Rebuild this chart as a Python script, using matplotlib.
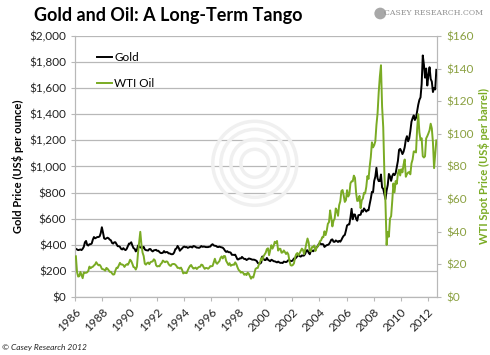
import numpy as np
import matplotlib
matplotlib.use('Agg')
import matplotlib.pyplot as plt
from matplotlib.patches import Ellipse

# monthly values, Jan 1986 .. Aug 2012
gold = [
    370, 365, 360, 362, 365, 360, 370, 385, 420, 430, 400, 395,   # 1986
    405, 405, 410, 440, 460, 450, 455, 460, 460, 465, 490, 535,   # 1987
    495, 450, 445, 450, 455, 450, 440, 435, 415, 410, 420, 420,   # 1988
    405, 390, 390, 385, 370, 365, 375, 365, 360, 370, 390, 410,   # 1989
    410, 420, 395, 375, 370, 350, 360, 395, 390, 380, 380, 378,   # 1990
    385, 365, 360, 358, 357, 368, 368, 356, 350, 358, 360, 362,   # 1991
    354, 355, 345, 338, 337, 340, 353, 342, 345, 345, 335, 335,   # 1992
    330, 328, 330, 342, 367, 372, 392, 378, 355, 365, 373, 383,   # 1993
    387, 382, 384, 377, 381, 385, 385, 380, 391, 389, 384, 379,   # 1994
    379, 377, 382, 391, 385, 387, 386, 383, 383, 383, 386, 387,   # 1995
    400, 405, 396, 393, 392, 385, 383, 387, 383, 381, 378, 369,   # 1996
    355, 346, 352, 344, 344, 341, 324, 324, 323, 325, 306, 289,   # 1997
    289, 297, 296, 308, 299, 292, 293, 284, 289, 296, 294, 291,   # 1998
    287, 287, 286, 282, 277, 261, 256, 257, 264, 311, 293, 284,   # 1999
    284, 300, 286, 280, 275, 286, 282, 275, 274, 270, 266, 272,   # 2000
    266, 262, 263, 261, 272, 270, 268, 273, 283, 283, 276, 276,   # 2001
    282, 296, 294, 303, 314, 322, 314, 310, 319, 317, 319, 333,   # 2002
    357, 359, 340, 328, 355, 356, 351, 359, 379, 379, 389, 407,   # 2003
    414, 405, 406, 404, 384, 392, 398, 400, 406, 420, 439, 442,   # 2004
    424, 423, 434, 429, 422, 431, 424, 438, 456, 470, 476, 510,   # 2005
    549, 555, 557, 610, 676, 596, 633, 632, 599, 585, 627, 629,   # 2006
    631, 664, 654, 679, 667, 655, 665, 665, 712, 754, 806, 803,   # 2007
    889, 922, 990, 909, 888, 889, 939, 839, 829, 790, 750, 816,   # 2008
    858, 943, 924, 890, 928, 945, 934, 949, 996, 1043, 1127, 1135,  # 2009
    1118, 1095, 1113, 1148, 1205, 1232, 1193, 1215, 1271, 1343, 1370, 1391,  # 2010
    1356, 1372, 1424, 1473, 1510, 1529, 1630, 1850, 1780, 1680, 1750, 1620,  # 2011
    1700, 1760, 1670, 1650, 1570, 1600, 1590, 1740,  # 2012
]

oil = [
    25.0, 15.5, 12.6, 12.8, 15.4, 13.5, 11.6, 15.1, 14.9, 14.9, 15.2, 16.1,  # 1986
    18.7, 17.7, 18.3, 18.6, 19.4, 20.0, 21.4, 20.3, 19.5, 19.8, 18.9, 17.3,  # 1987
    17.1, 16.8, 16.2, 17.9, 17.4, 16.5, 15.5, 15.5, 14.5, 13.8, 14.0, 16.3,  # 1988
    18.0, 17.9, 19.4, 21.0, 20.0, 20.0, 19.6, 18.5, 19.6, 20.1, 19.8, 21.1,  # 1989
    22.9, 22.1, 20.4, 18.4, 18.2, 16.9, 18.6, 27.2, 33.7, 40.0, 32.3, 27.3,  # 1990
    25.2, 20.5, 19.9, 20.8, 21.2, 20.2, 21.4, 21.7, 21.9, 23.2, 22.5, 19.5,  # 1991
    18.8, 19.0, 18.9, 20.2, 20.9, 22.4, 21.8, 21.4, 21.9, 21.7, 20.3, 19.4,  # 1992
    19.1, 20.1, 20.3, 20.3, 19.9, 19.1, 17.9, 18.0, 17.5, 18.1, 16.7, 14.5,  # 1993
    15.0, 14.8, 14.7, 16.4, 17.9, 19.1, 19.7, 18.4, 17.5, 17.7, 18.1, 17.2,  # 1994
    18.0, 18.5, 18.6, 19.9, 19.7, 18.4, 17.3, 17.9, 17.8, 17.4, 18.0, 19.0,  # 1995
    18.9, 19.1, 21.3, 23.5, 21.2, 20.4, 21.3, 22.0, 24.0, 24.9, 23.7, 25.2,  # 1996
    25.1, 22.2, 20.9, 19.7, 20.8, 19.2, 19.6, 19.9, 19.8, 21.3, 20.2, 18.3,  # 1997
    16.7, 16.1, 15.0, 15.4, 14.9, 13.7, 14.2, 13.5, 15.0, 14.4, 12.9, 11.3,  # 1998
    12.5, 12.0, 14.7, 17.3, 17.8, 17.9, 20.1, 21.3, 23.9, 22.6, 25.0, 26.1,  # 1999
    27.2, 29.4, 29.9, 25.7, 28.8, 31.8, 29.7, 31.2, 33.9, 33.1, 34.4, 28.5,  # 2000
    29.6, 29.6, 27.2, 27.4, 28.6, 27.6, 26.4, 27.4, 26.2, 22.2, 19.6, 19.3,  # 2001
    19.7, 20.7, 24.4, 26.3, 27.0, 25.5, 26.9, 28.4, 29.7, 28.9, 26.3, 29.4,  # 2002
    32.9, 35.9, 33.5, 28.3, 28.1, 30.7, 30.8, 31.6, 28.3, 30.3, 31.1, 32.1,  # 2003
    34.3, 34.7, 36.7, 36.7, 40.3, 38.0, 40.7, 44.9, 45.9, 53.1, 48.5, 43.3,  # 2004
    46.8, 48.0, 54.3, 53.0, 49.8, 56.3, 58.7, 65.0, 65.6, 62.3, 58.3, 59.4,  # 2005
    65.5, 61.6, 62.9, 69.7, 70.9, 70.9, 74.4, 73.0, 63.8, 58.9, 59.1, 62.0,  # 2006
    54.5, 59.3, 60.4, 63.9, 63.5, 67.5, 74.1, 72.4, 79.9, 85.8, 94.8, 91.7,  # 2007
    93.0, 95.4, 105.5, 112.6, 125.4, 135.0, 142.0, 116.7, 104.1, 76.6, 57.3, 32.0,  # 2008
    40.0, 37.0, 48.1, 49.6, 59.0, 69.6, 64.2, 71.1, 69.4, 75.7, 78.0, 74.5,  # 2009
    78.3, 76.4, 81.2, 84.3, 73.7, 75.3, 76.3, 76.6, 75.2, 81.9, 84.3, 89.2,  # 2010
    89.2, 88.6, 102.9, 112.0, 100.9, 96.3, 97.3, 86.3, 85.5, 86.3, 97.2, 98.6,  # 2011
    100.3, 102.2, 106.2, 103.3, 94.7, 79.0, 87.9, 96.0,  # 2012
]

years = 1986 + (np.arange(len(gold)) + 0.5) / 12.0
year_ticks = list(range(1986, 2013, 2))

GREEN = '#7aab24'
GREEN_TXT = '#8aa040'
GRID = '#b8b8b8'

plt.rcParams['font.family'] = ['Lato', 'DejaVu Sans']

fig = plt.figure(figsize=(4.9, 3.55), dpi=100)
ax = fig.add_axes([0.1537, 0.163, 0.7383, 0.736])
ax2 = ax.twinx()

# faint watermark rings
for r in [14, 24, 34, 42]:
    fig.patches.append(Ellipse((0.52, 0.54), 2 * r / 490, 2 * r / 355, fill=False,
                               ec='#f0f0f0', lw=2.5, transform=fig.transFigure, zorder=0))

ax.plot(years, gold, color='black', lw=1.4, label='Gold', zorder=3)
ax2.plot(years, oil, color=GREEN, lw=1.4, label='WTI Oil', zorder=3)

ax.set_xlim(1986, 2012.68)
ax.set_ylim(0, 2000)
ax2.set_ylim(0, 160)
ax.set_yticks(range(0, 2001, 200))
ax.set_yticklabels(['$%s' % format(v, ',') for v in range(0, 2001, 200)])
ax2.set_yticks(range(0, 161, 20))
ax2.set_yticklabels(['$%d' % v for v in range(0, 161, 20)])
ax.set_xticks(year_ticks)
ax.set_xticklabels([str(y) for y in year_ticks], rotation=45, ha='right',
                   rotation_mode='anchor')

ax.grid(axis='y', color=GRID, lw=0.9)
ax.set_axisbelow(True)
for a in (ax, ax2):
    a.spines['top'].set_visible(False)
    for s in ('left', 'right', 'bottom'):
        a.spines[s].set_color(GRID)
ax.tick_params(axis='both', colors=GRID, labelcolor='#222222', labelsize=8.5, length=3)
ax2.tick_params(axis='y', colors=GRID, labelcolor=GREEN_TXT, labelsize=8.5, length=3)

ax.set_ylabel('Gold Price (US$ per ounce)', fontsize=8, fontweight='bold', labelpad=4)
ax2.set_ylabel('WTI Spot Price (US$ per barrel)', fontsize=8, fontweight='bold',
               color=GREEN, labelpad=3)

h1, l1 = ax.get_legend_handles_labels()
h2, l2 = ax2.get_legend_handles_labels()
leg = ax2.legend(h1 + h2, l1 + l2, loc='upper left', bbox_to_anchor=(0.03, 0.98),
                 frameon=False, fontsize=8.5, handlelength=1.3, handletextpad=0.2,
                 labelspacing=1.3)

fig.text(0.07, 0.955, 'Gold and Oil: A Long-Term Tango', fontsize=13,
         fontweight='bold', va='center', ha='left')
fig.patches.append(Ellipse((0.776, 0.962), 0.024, 0.033, fc='#a8a8a8', ec='none',
                           transform=fig.transFigure))
fig.text(0.986, 0.962, 'CASEY RESEARCH.COM', fontsize=5.6, family='DejaVu Serif',
         color='#909090', va='center', ha='right')
fig.text(0.005, 0.022, '\u00a9 Casey Research 2012', fontsize=6, style='italic',
         color='#222222', va='center', ha='left')

fig.savefig('out.png', dpi=100)
